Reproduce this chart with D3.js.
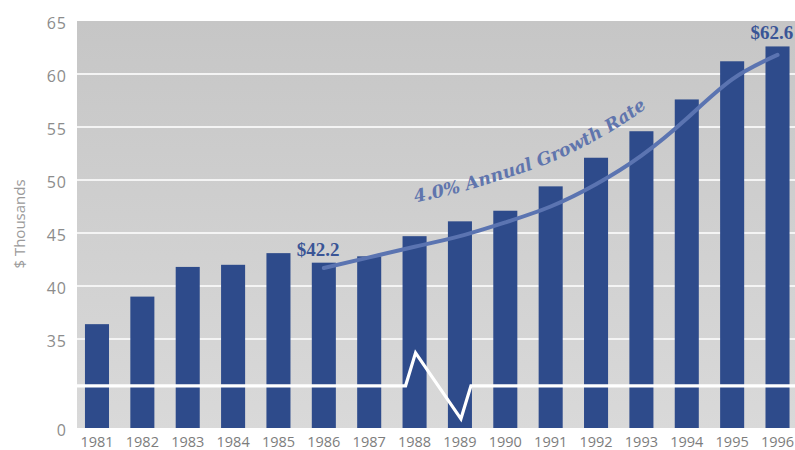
<!DOCTYPE html>
<html>
<head>
<meta charset="utf-8">
<script src="https://cdn.jsdelivr.net/npm/d3@7"></script>
<style>
  html, body { margin: 0; padding: 0; background: #fff; }
  svg { display: block; }
</style>
</head>
<body>
<svg id="chart" width="795" height="450"></svg>
<script>
// Median income by year, in thousands of dollars
const years = ["1981","1982","1983","1984","1985","1986","1987","1988",
               "1989","1990","1991","1992","1993","1994","1995","1996"];
const income = [36.4, 39.0, 41.8, 42.0, 43.1, 42.2, 42.8, 44.7,
                46.1, 47.1, 49.4, 52.1, 54.6, 57.6, 61.2, 62.6];

// Trend line drawn over 1986-1996
const trendYears = ["1986","1987","1988","1989","1990","1991",
                    "1992","1993","1994","1995","1996"];
const trendValues = [41.7, 42.7, 43.7, 44.7, 46.0, 47.5, 49.6, 52.3, 55.8, 59.5, 61.8];
const trendLabel = "4.0% Annual Growth Rate";

// Value labels on the first and last bar of the trend
const calloutYears = ["1986", "1996"];
const calloutText = ["$42.2", "$62.6"];

// Axis
const yTicks = [0, 35, 40, 45, 50, 55, 60, 65];
const gridValues = [35, 40, 45, 50, 55, 60];
const axisBreakValue = 16.6;   // where the broken axis is cut
const yTitle = "$ Thousands";

const svg = d3.select("#chart");
const plot = { left: 77, right: 795, top: 21, bottom: 428 };

const x = d3.scaleBand()
  .domain(years)
  .range([74.3, 800.2])
  .paddingInner(0.47)
  .paddingOuter(0.235);

// Broken axis: 0..35 is squeezed into the bottom strip
const y = d3.scaleLinear()
  .domain([0, 35, 65])
  .range([plot.bottom, 339, plot.top]);

// Background with a soft vertical gradient
const defs = svg.append("defs");
const grad = defs.append("linearGradient")
  .attr("id", "bg").attr("x1", 0).attr("x2", 0).attr("y1", 0).attr("y2", 1);
grad.append("stop").attr("offset", "0%").attr("stop-color", "#c6c6c6");
grad.append("stop").attr("offset", "100%").attr("stop-color", "#d9d9d9");

svg.append("rect")
  .attr("x", plot.left).attr("y", plot.top)
  .attr("width", plot.right - plot.left)
  .attr("height", plot.bottom - plot.top)
  .attr("fill", "url(#bg)");

// Gridlines
svg.append("g").selectAll("line").data(gridValues).join("line")
  .attr("x1", plot.left).attr("x2", plot.right)
  .attr("y1", d => y(d)).attr("y2", d => y(d))
  .attr("stroke", "#f4f4f4").attr("stroke-width", 2.2);

// Bars
svg.append("g").selectAll("rect").data(years).join("rect")
  .attr("x", d => x(d))
  .attr("width", x.bandwidth())
  .attr("y", (d, i) => y(income[i]))
  .attr("height", (d, i) => y(0) - y(income[i]))
  .attr("fill", "#2e4b8b");

// Axis break: white line with a zigzag between 1988 and 1989
const by = y(axisBreakValue);
const c88 = x("1988") + x.bandwidth() / 2;
const c89 = x("1989") + x.bandwidth() / 2;
const breakPts = [
  [plot.left, by], [c88 - 9, by], [c88 + 1, by - 33],
  [c89 + 1, by + 33], [c89 + 11, by], [plot.right, by]
];
svg.append("path")
  .attr("d", d3.line()(breakPts))
  .attr("fill", "none")
  .attr("stroke", "#ffffff")
  .attr("stroke-width", 3.2)
  .attr("stroke-linejoin", "miter");

// Trend line
const trendX = (d, i) => x(trendYears[i]) + x.bandwidth() / 2;
const trendLine = d3.line()
  .x(trendX)
  .y(d => y(d))
  .curve(d3.curveNatural);

svg.append("path")
  .attr("d", trendLine(trendValues))
  .attr("fill", "none")
  .attr("stroke", "#5b74b1")
  .attr("stroke-width", 4)
  .attr("stroke-linecap", "round");

// Label rides on a copy of the trend line lifted 44px
const labelLift = 44;
const labelLine = d3.line()
  .x(trendX)
  .y(d => y(d) - labelLift)
  .curve(d3.curveNatural);
const labelPath = defs.append("path")
  .attr("id", "labelPath")
  .attr("d", labelLine(trendValues));

// Start the label where the lifted path reaches x = 415
const lp = labelPath.node();
let startLen = 0;
const lpTotal = lp.getTotalLength();
for (let s = 0; s <= lpTotal; s += 1) {
  if (lp.getPointAtLength(s).x >= 415) { startLen = s; break; }
}

svg.append("text")
  .attr("font-family", "DejaVu Serif")
  .attr("font-style", "italic")
  .attr("font-weight", "bold")
  .attr("font-size", 17.5)
  .attr("fill", "#6075ad")
  .append("textPath")
  .attr("href", "#labelPath")
  .attr("startOffset", startLen)
  .text(trendLabel);

// Callouts
svg.append("g").selectAll("text").data(calloutYears).join("text")
  .attr("x", d => x(d) + x.bandwidth() / 2 - 27)
  .attr("y", d => y(income[years.indexOf(d)]) - 7)
  .attr("font-family", "Liberation Serif")
  .attr("font-weight", "bold")
  .attr("font-size", 19)
  .attr("fill", "#3a5596")
  .text((d, i) => calloutText[i]);

// Y axis
const yAxis = svg.append("g")
  .attr("transform", `translate(${plot.left},0)`)
  .call(d3.axisLeft(y).tickValues(yTicks).tickSize(0).tickPadding(10).tickFormat(d3.format("d")));
yAxis.select(".domain").remove();
yAxis.selectAll("text")
  .attr("font-family", "Open Sans")
  .attr("font-size", 16)
  .attr("letter-spacing", 1)
  .attr("fill", "#8c8c8c")
  .attr("dy", "0.45em");

// X axis
const xAxis = svg.append("g")
  .attr("transform", `translate(0,${plot.bottom})`)
  .call(d3.axisBottom(x).tickSize(0).tickPadding(9));
xAxis.select(".domain").remove();
xAxis.selectAll("text")
  .attr("font-family", "Open Sans")
  .attr("font-size", 14.5)
  .attr("fill", "#7d7d7d");

// Y axis title
svg.append("text")
  .attr("transform", "translate(25,224) rotate(-90)")
  .attr("text-anchor", "middle")
  .attr("font-family", "Open Sans")
  .attr("font-size", 15)
  .attr("fill", "#9a9a9a")
  .text(yTitle);
</script>
</body>
</html>
